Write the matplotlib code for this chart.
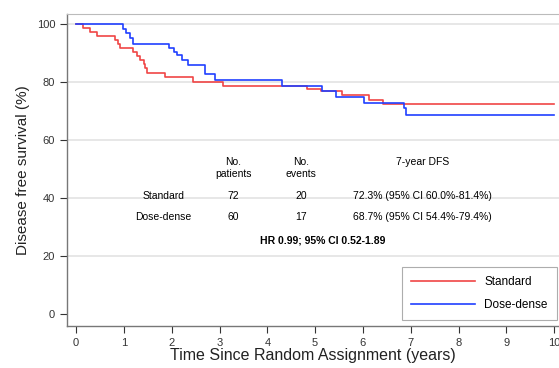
import matplotlib
matplotlib.use('Agg')
import matplotlib.pyplot as plt

plt.rcParams['font.family'] = ['Liberation Sans', 'DejaVu Sans']

# Kaplan-Meier step points (years, % DFS)
std_t = [0, 0.15, 0.30, 0.43, 0.82, 0.88, 0.92, 1.20, 1.27, 1.34, 1.41, 1.44, 1.48,
         1.87, 2.45, 3.07, 4.82, 5.12, 5.57, 6.13, 6.41, 10.0]
std_s = [100, 98.6, 97.2, 95.8, 94.4, 93.1, 91.7, 90.3, 88.9, 87.5, 86.1, 84.7, 83.2,
         81.7, 80.1, 78.6, 77.4, 76.7, 75.6, 73.8, 72.3, 72.3]
dd_t = [0, 0.99, 1.05, 1.12, 1.18, 1.94, 2.04, 2.11, 2.22, 2.35, 2.70, 2.91,
        4.31, 5.15, 5.43, 6.02, 6.85, 6.90, 10.0]
dd_s = [100, 98.3, 96.7, 95.0, 93.0, 91.7, 90.3, 89.2, 87.6, 86.0, 82.6, 80.5,
        78.6, 76.7, 74.9, 72.8, 71.0, 68.7, 68.7]

groups = ['Standard', 'Dose-dense']
n_patients = ['72', '60']
n_events = ['20', '17']
dfs_7yr = ['72.3% (95% CI 60.0%-81.4%)', '68.7% (95% CI 54.4%-79.4%)']
hr_text = 'HR 0.99; 95% CI 0.52-1.89'

fig = plt.figure(figsize=(5.59, 3.68), dpi=100)
ax = fig.add_axes([67 / 559, 42 / 368, 492 / 559, 312 / 368])

for y in [20, 40, 60, 80, 100]:
    ax.axhline(y, color='#e3e3e3', lw=1.2, zorder=0)

ax.step(std_t, std_s, where='post', color='#f04545', lw=1.2, label='Standard')
ax.step(dd_t, dd_s, where='post', color='#2040ff', lw=1.2, label='Dose-dense')

ax.set_xlim(-0.19, 10.10)
ax.set_ylim(-4.1, 103.4)
ax.set_xticks(range(0, 11))
ax.set_yticks([0, 20, 40, 60, 80, 100])
ax.tick_params(labelsize=8, colors='#333333', length=5, width=0.8)
ax.tick_params(axis='x', pad=3.5)
for s in ['left', 'bottom']:
    ax.spines[s].set_color('#777777')
    ax.spines[s].set_linewidth(1.0)
ax.spines['top'].set_color('#bbbbbb')
ax.spines['right'].set_visible(False)

ax.set_xlabel('Time Since Random Assignment (years)', fontsize=11.5, labelpad=0, color='#222222')
ax.set_ylabel('Disease free survival (%)', fontsize=11, labelpad=5, color='#222222')

# summary table inside the plot
fs = 7.5
ax.text(3.29, 50.3, 'No.\npatients', fontsize=fs, ha='center', va='center', linespacing=1.3)
ax.text(4.70, 50.3, 'No.\nevents', fontsize=fs, ha='center', va='center', linespacing=1.3)
ax.text(7.25, 52.3, '7-year DFS', fontsize=fs, ha='center', va='center')
row_y = [40.7, 33.6]
for i, g in enumerate(groups):
    ax.text(1.83, row_y[i], g, fontsize=fs, ha='center', va='center')
    ax.text(3.29, row_y[i], n_patients[i], fontsize=fs, ha='center', va='center')
    ax.text(4.70, row_y[i], n_events[i], fontsize=fs, ha='center', va='center')
    ax.text(7.25, row_y[i], dfs_7yr[i], fontsize=fs, ha='center', va='center')
ax.text(5.16, 25.4, hr_text, fontsize=fs, ha='center', va='center', fontweight='bold')

leg = ax.legend(loc='lower right', bbox_to_anchor=(0.996, 0.018), fontsize=8.5, frameon=True,
                fancybox=False, edgecolor='#999999', handlelength=5.4, labelspacing=0.9,
                borderpad=0.8, handletextpad=0.8, borderaxespad=0)
leg.get_frame().set_linewidth(0.8)

plt.savefig('out.png', dpi=100)
